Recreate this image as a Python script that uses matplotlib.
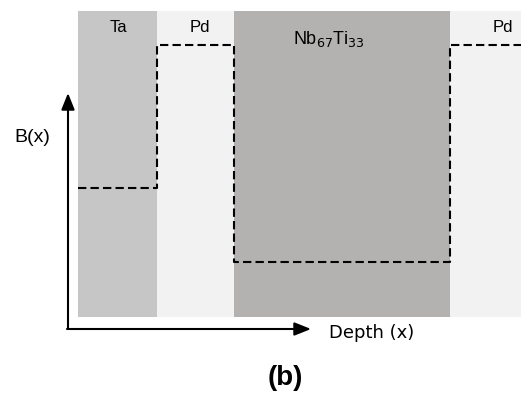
import numpy as np
import matplotlib
matplotlib.use("Agg")
import matplotlib.pyplot as plt

# layer stack (arbitrary depth units) and field level in each layer
layers = ["Ta", "Pd", "Nb$_{67}$Ti$_{33}$", "Pd"]
thickness = [79, 77, 216, 71]
b_level = [0.42, 0.89, 0.18, 0.89]
layer_colors = ["#c6c6c6", "#f2f2f2", "#b3b2b0", "#f2f2f2"]

edges = np.concatenate([[0], np.cumsum(thickness)])

fig = plt.figure(figsize=(5.21, 3.95), dpi=100)
ax = fig.add_axes([78 / 521, 78 / 395, 443 / 521, 306 / 395])

# shaded layers
for i in range(len(layers)):
    ax.axvspan(edges[i], edges[i + 1], color=layer_colors[i], lw=0)

# stepped B(x) profile
xs = np.repeat(edges, 2)[1:-1]
ys = np.repeat(b_level, 2)
ax.plot(xs, ys, color="black", lw=1.5, linestyle=(0, (4, 2)), clip_on=False)

# layer names
label_x = [40, 122, 251, 425]
for name, lx in zip(layers, label_x):
    if "Nb" in name:
        ax.text(lx, 0.91, name, ha="center", va="center", fontsize=13,
                family="Liberation Sans")
    else:
        ax.text(lx, 0.945, name, ha="center", va="center", fontsize=12,
                family="Liberation Sans")

ax.set_xlim(edges[0], edges[-1])
ax.set_ylim(0, 1)
ax.axis("off")

# axis arrows
arrow = dict(arrowstyle="-|>,head_length=0.5,head_width=0.2", color="black",
             lw=1.5, mutation_scale=20, shrinkA=0, shrinkB=0)
ax.annotate("", xy=(68, 302), xytext=(68, 66), xycoords="figure pixels",
            textcoords="figure pixels", arrowprops=arrow)
ax.annotate("", xy=(311, 66), xytext=(67, 66), xycoords="figure pixels",
            textcoords="figure pixels", arrowprops=arrow)

fig.text(32 / 521, 258 / 395, "B(x)", ha="center", va="center", fontsize=14,
         family="Liberation Sans")
fig.text(329 / 521, 62 / 395, "Depth (x)", ha="left", va="center", fontsize=13)
fig.text(285 / 521, 17 / 395, "(b)", ha="center", va="center", fontsize=20,
         fontweight="bold", family="Liberation Sans")

fig.savefig("out.png", dpi=100)
